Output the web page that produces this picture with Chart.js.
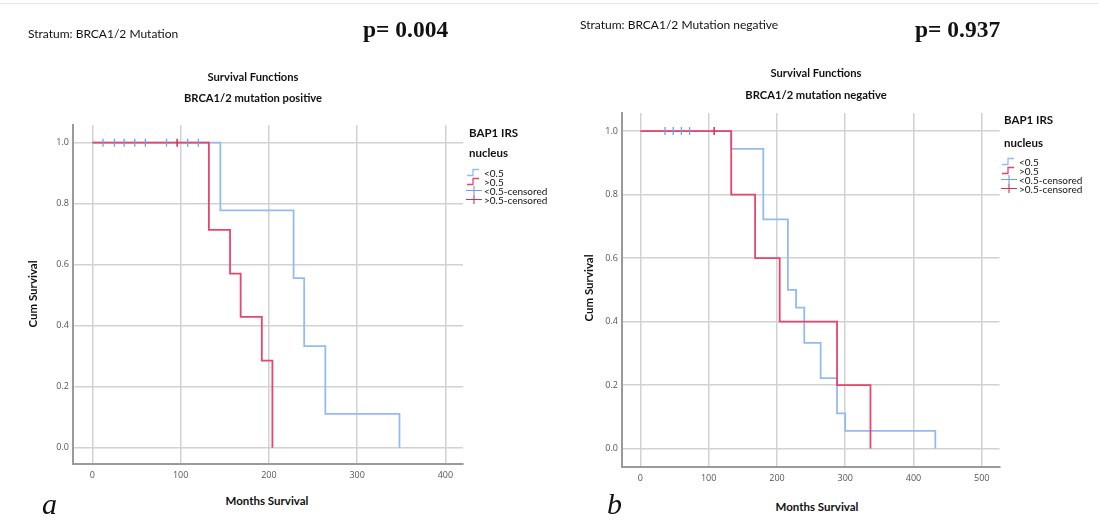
<!DOCTYPE html>
<html>
<head>
<meta charset="utf-8">
<script src="https://cdn.jsdelivr.net/npm/chart.js@4.4.1/dist/chart.umd.min.js"></script>
<style>
  html, body { margin: 0; padding: 0; background: #fff; }
  #page { position: relative; width: 1098px; height: 523px; overflow: hidden; font-family: Lato, "Open Sans", sans-serif; color: #111; }
  canvas { position: absolute; top: 0; }
  .t { position: absolute; white-space: nowrap; line-height: 1; }
  .c { transform: translateX(-50%); }
  .stratum { font-size: 12px; }
  .pval { font-family: "Liberation Serif", serif; font-weight: bold; font-size: 23.5px; }
  .title { font-size: 11.2px; font-weight: bold; text-align: center; }
  .axt { font-size: 11.5px; font-weight: bold; }
  .rot { transform: translate(-50%, -50%) rotate(-90deg); }
  .letter { font-family: "Liberation Serif", serif; font-style: italic; font-size: 30px; }
  .legt { font-size: 11.5px; font-weight: bold; }
  .lege { font-size: 10px; display: flex; align-items: center; height: 9px; }
  .lege svg { margin-right: 2px; }
  #topline { position: absolute; left: 0; right: 0; top: 3px; height: 1px; background: #e6e6e6; }
</style>
</head>
<body>
<div id="page">
  <div id="topline"></div>
  <canvas id="chart-a" width="470" height="490" style="left:0px;width:470px;height:490px"></canvas>
  <canvas id="chart-b" width="445" height="490" style="left:560px;width:445px;height:490px"></canvas>

  <div class="t stratum" style="left:28px;top:28px">Stratum: BRCA1/2 Mutation</div>
  <div class="t pval" style="left:363px;top:18px">p= 0.004</div>
  <div class="t title c" style="left:253px;top:71px">Survival Functions</div>
  <div class="t title c" style="left:253px;top:92px">BRCA1/2 mutation positive</div>
  <div class="t axt rot" style="left:33px;top:294px">Cum Survival</div>
  <div class="t axt c" style="left:267px;top:495px">Months Survival</div>
  <div class="t letter" style="left:42px;top:489px">a</div>
  <div class="t legt" style="left:469px;top:127px">BAP1 IRS</div>
  <div class="t legt" style="left:469px;top:147px">nucleus</div>
  <div id="legend-a" style="position:absolute;left:466px;top:168px"></div>

  <div class="t stratum" style="left:580px;top:19px">Stratum: BRCA1/2 Mutation negative</div>
  <div class="t pval" style="left:915px;top:18px">p= 0.937</div>
  <div class="t title c" style="left:816px;top:67px">Survival Functions</div>
  <div class="t title c" style="left:816px;top:89px">BRCA1/2 mutation negative</div>
  <div class="t axt rot" style="left:589px;top:288px">Cum Survival</div>
  <div class="t axt c" style="left:817px;top:501px">Months Survival</div>
  <div class="t letter" style="left:607px;top:489px">b</div>
  <div class="t legt" style="left:1004px;top:114px">BAP1 IRS</div>
  <div class="t legt" style="left:1004px;top:137px">nucleus</div>
  <div id="legend-b" style="position:absolute;left:1001px;top:157px"></div>
</div>
<script>
// panel a: BRCA1/2 mutation positive
const aLowTime = [0, 145, 228, 240, 264, 348];
const aLowSurv = [1, 0.778, 0.556, 0.333, 0.111, 0];
const aHighTime = [0, 132, 156, 168, 192, 204];
const aHighSurv = [1, 0.714, 0.571, 0.429, 0.286, 0];
const aLowCens = [12, 25, 36, 48, 60, 84, 108, 120];
const aHighCens = [96];
const aXTicks = [0, 100, 200, 300, 400];

// panel b: BRCA1/2 mutation negative
const bLowTime = [0, 133, 180, 216, 228, 240, 264, 288, 300, 432];
const bLowSurv = [1, 0.944, 0.722, 0.5, 0.444, 0.333, 0.222, 0.111, 0.056, 0];
const bHighTime = [0, 133, 168, 204, 288, 337];
const bHighSurv = [1, 0.8, 0.6, 0.4, 0.2, 0];
const bLowCens = [36, 48, 60, 72];
const bHighCens = [108];
const bXTicks = [0, 100, 200, 300, 400, 500];

const yTicks = [0, 0.2, 0.4, 0.6, 0.8, 1.0];
const legendLabels = ["<0.5", ">0.5", "<0.5-censored", ">0.5-censored"];

const blue = "#93bbf2";
const red = "#e8456d";
const blueCens = "#6aa3ec";
const redCens = "#c8345c";

function pts(xs, ys) {
  return xs.map((x, i) => ({ x: x, y: ys[i] }));
}

function censPts(xs) {
  return xs.map((x) => ({ x: x, y: 1 }));
}

function makeChart(id, p) {
  const datasets = [
    { data: censPts(p.lowCens), type: "scatter", showLine: false, pointStyle: "line", rotation: 90,
      pointRadius: 4, borderColor: blueCens, backgroundColor: blueCens, borderWidth: 1.3, order: 0 },
    { data: censPts(p.highCens), type: "scatter", showLine: false, pointStyle: "line", rotation: 90,
      pointRadius: 4, borderColor: redCens, backgroundColor: redCens, borderWidth: 1.5, order: 1 },
    { data: pts(p.highTime, p.highSurv), stepped: "before", borderColor: red, borderWidth: 1.8,
      pointRadius: 0, fill: false, order: 2 },
    { data: pts(p.lowTime, p.lowSurv), stepped: "before", borderColor: blue, borderWidth: 1.8,
      pointRadius: 0, fill: false, order: 3 },
  ];

  return new Chart(document.getElementById(id), {
    type: "line",
    data: { datasets: datasets },
    options: {
      responsive: false,
      animation: false,
      devicePixelRatio: 1,
      layout: { padding: { top: p.padTop, right: p.padRight, left: 0, bottom: 0 } },
      plugins: { legend: { display: false }, tooltip: { enabled: false } },
      scales: {
        x: {
          type: "linear",
          min: p.xMin,
          max: p.xMax,
          afterBuildTicks: (scale) => { scale.ticks = p.xTicks.map((v) => ({ value: v })); },
          afterFit: (scale) => { scale.height = p.xHeight; },
          grid: { color: "#d2d2d2", lineWidth: 1.5, drawTicks: false },
          border: { color: "#9a9a9a", width: 2 },
          ticks: { padding: 6, color: "#555", font: { family: "Open Sans", size: 9 }, maxRotation: 0 },
        },
        y: {
          min: p.yMin,
          max: p.yMax,
          afterBuildTicks: (scale) => { scale.ticks = yTicks.map((v) => ({ value: v })); },
          afterFit: (scale) => { scale.width = p.yWidth; },
          grid: { color: "#d2d2d2", lineWidth: 1.5, drawTicks: false },
          border: { color: "#9a9a9a", width: 2 },
          ticks: { padding: 4, color: "#555", font: { family: "Open Sans", size: 9 },
            callback: (v) => v.toFixed(1) },
        },
      },
    },
  });
}

makeChart("chart-a", {
  lowTime: aLowTime, lowSurv: aLowSurv, highTime: aHighTime, highSurv: aHighSurv,
  lowCens: aLowCens, highCens: aHighCens, xTicks: aXTicks,
  xMin: -22, xMax: 420, yMin: -0.053, yMax: 1.058,
  padTop: 125, padRight: 7, yWidth: 73, xHeight: 26,
});

makeChart("chart-b", {
  lowTime: bLowTime, lowSurv: bLowSurv, highTime: bHighTime, highSurv: bHighSurv,
  lowCens: bLowCens, highCens: bHighCens, xTicks: bXTicks,
  xMin: -27, xMax: 526, yMin: -0.058, yMax: 1.057,
  padTop: 113, padRight: 2, yWidth: 62, xHeight: 23,
});

function stepIcon(color) {
  return '<svg width="16" height="9"><path d="M1 7.5 H7 V1.5 H13" fill="none" stroke="' + color + '" stroke-width="1.3"/></svg>';
}
function crossIcon(color) {
  return '<svg width="16" height="9"><path d="M0 4.5 H16 M8 0 V9" fill="none" stroke="' + color + '" stroke-width="1.1"/></svg>';
}

function buildLegend(id) {
  const icons = [stepIcon(blue), stepIcon(red), crossIcon(blueCens), crossIcon(redCens)];
  document.getElementById(id).innerHTML = legendLabels
    .map((label, i) => '<div class="lege">' + icons[i] + '<span>' + label.replace("<", "&lt;").replace(">", "&gt;") + '</span></div>')
    .join("");
}
buildLegend("legend-a");
buildLegend("legend-b");
</script>
</body>
</html>
